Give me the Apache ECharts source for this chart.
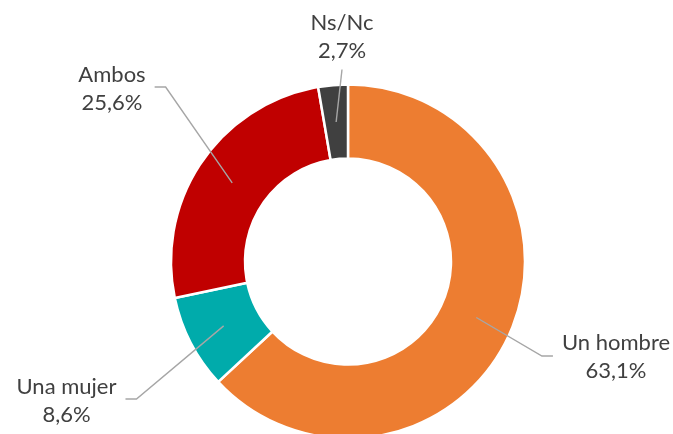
<!DOCTYPE html>
<html>
<head>
<meta charset="utf-8">
<script src="https://cdn.jsdelivr.net/npm/echarts@6/dist/echarts.min.js"></script>
<style>
html,body{margin:0;padding:0;background:#fff;}
#chart{width:673px;height:434px;}
</style>
</head>
<body>
<div id="chart"></div>
<script>
// Data
const categories = ['Un hombre', 'Una mujer', 'Ambos', 'Ns/Nc'];
const values = [63.1, 8.6, 25.6, 2.7];
const valueLabels = ['63,1%', '8,6%', '25,6%', '2,7%'];

// Styles / layout (not data)
const colors = ['#ED7D31', '#00ABAB', '#C00000', '#404040'];
const center = [348, 261.5];
// label block centres and leader style
const labelAnchors = [
  { x: 616, y: 357, side: 'left' },
  { x: 66.5, y: 401, side: 'right' },
  { x: 112, y: 89, side: 'right' },
  { x: 342, y: 37, side: 'bottom' }
];

const chart = echarts.init(document.getElementById('chart'), null, { renderer: 'canvas' });

const data = categories.map((c, i) => ({
  name: c,
  value: values[i],
  itemStyle: { color: colors[i] }
}));

const option = {
  backgroundColor: '#ffffff',
  animation: false,
  series: [
    {
      type: 'pie',
      z: 1,
      center: center,
      radius: [103, 177],
      startAngle: 90,
      clockwise: true,
      silent: true,
      avoidLabelOverlap: false,
      itemStyle: { borderColor: '#ffffff', borderWidth: 2.5 },
      label: { show: false },
      labelLine: { show: false },
      data: data
    },
    {
      type: 'pie',
      z: 5,
      center: center,
      radius: [0, 140],
      startAngle: 90,
      clockwise: true,
      silent: true,
      avoidLabelOverlap: false,
      itemStyle: { color: 'rgba(0,0,0,0)', borderWidth: 0 },
      label: {
        show: true,
        position: 'outside',
        formatter: (p) => p.name + '\n' + valueLabels[p.dataIndex],
        fontFamily: 'Lato',
        fontSize: 22,
        lineHeight: 28.5,
        color: '#404040'
      },
      labelLine: {
        show: true,
        length: 10,
        length2: 5,
        lineStyle: { color: '#A6A6A6', width: 1.4 }
      },
      labelLayout: function (params) {
        const a = labelAnchors[params.dataIndex];
        const w = params.labelRect.width;
        const h = params.labelRect.height;
        const start = params.labelLinePoints[0];
        let pts;
        if (a.side === 'left') {
          const ex = a.x - w / 2 - 9;
          pts = [start, [ex - 11, a.y - 1], [ex, a.y - 1]];
        } else if (a.side === 'right') {
          const ex = a.x + w / 2 + 9;
          pts = [start, [ex + 11, a.y - 2], [ex, a.y - 2]];
        } else {
          pts = [start, [a.x, a.y + h / 2 + 4]];
        }
        return {
          x: a.x,
          y: a.y,
          align: 'center',
          verticalAlign: 'middle',
          labelLinePoints: pts
        };
      },
      data: data.map(d => ({ name: d.name, value: d.value }))
    }
  ]
};

chart.setOption(option);
</script>
</body>
</html>
